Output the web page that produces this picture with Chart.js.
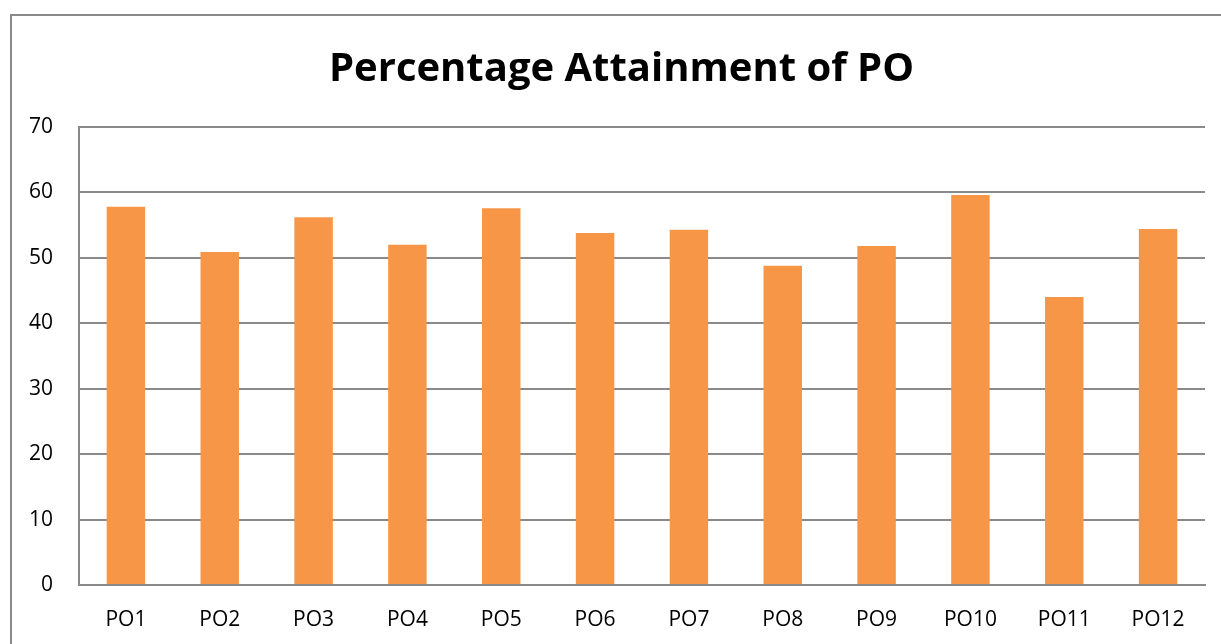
<!DOCTYPE html>
<html>
<head>
<meta charset="utf-8">
<script src="https://cdn.jsdelivr.net/npm/chart.js@4.4.1/dist/chart.umd.min.js"></script>
<style>
  html, body { margin: 0; padding: 0; background: #fff; overflow: hidden; }
  #wrap { position: relative; width: 1221px; height: 644px; }
  #frame { position: absolute; left: 10px; top: 14px; width: 1240px; height: 660px; border: 2px solid #8a8a8a; box-sizing: border-box; }
  canvas { position: absolute; left: 0; top: 0; }
</style>
</head>
<body>
<div id="wrap">
  <div id="frame"></div>
  <canvas id="chart" width="1221" height="644"></canvas>
</div>
<script>
const titleText = 'Percentage Attainment of PO';
const categories = ['PO1', 'PO2', 'PO3', 'PO4', 'PO5', 'PO6', 'PO7', 'PO8', 'PO9', 'PO10', 'PO11', 'PO12'];
const attainment = [57.8, 50.9, 56.2, 52.0, 57.6, 53.8, 54.3, 48.8, 51.8, 59.6, 44.0, 54.4];
const yTicks = [0, 10, 20, 30, 40, 50, 60, 70];

const gridColor = '#8a8a8a';
const fontFamily = '"Open Sans", "Liberation Sans", sans-serif';

// the original title sits a little right of the canvas centre
const shiftTitle = {
  id: 'shiftTitle',
  afterLayout(chart) {
    if (chart.titleBlock) chart.titleBlock.left += 38;
  }
};

new Chart(document.getElementById('chart'), {
  type: 'bar',
  data: {
    labels: categories,
    datasets: [{
      label: 'Attainment',
      data: attainment,
      backgroundColor: '#f79646',
      borderWidth: 0,
      barPercentage: 0.41,
      categoryPercentage: 1
    }]
  },
  options: {
    responsive: false,
    animation: false,
    layout: { padding: { left: 0, right: 16, top: 0, bottom: 0 } },
    plugins: {
      legend: { display: false },
      tooltip: { enabled: false },
      title: {
        display: true,
        text: titleText,
        color: '#000',
        font: { family: fontFamily, size: 40, weight: 'bold', lineHeight: 1.2 },
        padding: { top: 46, bottom: 33 }
      }
    },
    scales: {
      x: {
        grid: { display: false, drawTicks: false },
        border: { display: true, color: gridColor, width: 2 },
        ticks: { color: '#000', font: { family: fontFamily, size: 21 }, padding: 22 },
        afterFit: s => { s.height = 59; }
      },
      y: {
        min: 0,
        max: 70,
        afterBuildTicks: s => { s.ticks = yTicks.map(v => ({ value: v })); },
        grid: { color: gridColor, lineWidth: 2, drawTicks: false },
        border: { display: true, color: gridColor, width: 2 },
        ticks: { color: '#000', font: { family: fontFamily, size: 21 }, padding: 26 },
        afterFit: s => { s.width = 79; }
      }
    }
  },
  plugins: [shiftTitle]
});
</script>
</body>
</html>
